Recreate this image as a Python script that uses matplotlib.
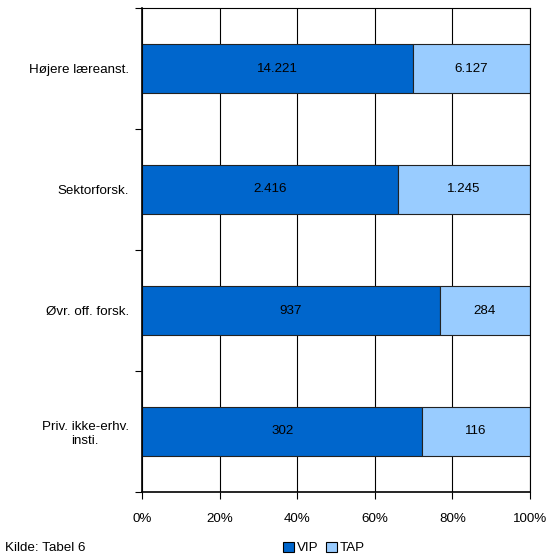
import numpy as np
import matplotlib.pyplot as plt
from matplotlib.patches import Patch

plt.rcParams['font.family'] = ['Liberation Sans', 'DejaVu Sans']

# Data
categories = ["Højere læreanst.", "Sektorforsk.", "Øvr. off. forsk.", "Priv. ikke-erhv.\ninsti."]
vip = np.array([14221, 2416, 937, 302])
tap = np.array([6127, 1245, 284, 116])
vip_labels = ["14.221", "2.416", "937", "302"]
tap_labels = ["6.127", "1.245", "284", "116"]

total = vip + tap
vip_share = vip / total
tap_share = tap / total

fs = 9.6

fig = plt.figure(figsize=(5.52, 5.57), dpi=100)
ax = fig.add_axes([142 / 552, 65 / 557, 388 / 552, 484 / 557])

y = np.arange(len(categories))
ax.set_axisbelow(True)
ax.xaxis.grid(True, color='black', linewidth=0.8)

ax.barh(y, vip_share, height=0.4, color='#0066CC', edgecolor='#222222', linewidth=0.8, label='VIP')
ax.barh(y, tap_share, left=vip_share, height=0.4, color='#99CCFF', edgecolor='#222222', linewidth=0.8, label='TAP')

for i in range(len(categories)):
    ax.text(vip_share[i] / 2, y[i], vip_labels[i], ha='center', va='center', fontsize=fs, color='black')
    ax.text(vip_share[i] + tap_share[i] / 2, y[i], tap_labels[i], ha='center', va='center', fontsize=fs, color='black')

ax.set_xlim(0, 1)
ax.set_ylim(len(categories) - 0.5, -0.5)
ax.set_xticks(np.linspace(0, 1, 6))
ax.set_xticklabels([f"{int(v)}%" for v in np.linspace(0, 100, 6)], fontsize=fs)

# boundaries as major ticks, labels on minor ticks
ax.set_yticks(np.arange(-0.5, len(categories), 1.0))
ax.set_yticklabels([])
ax.set_yticks(y, minor=True)
ax.set_yticklabels(categories, minor=True, fontsize=fs, ha='right', multialignment='center')
ax.tick_params(axis='y', which='minor', length=0, pad=9.5)
ax.tick_params(axis='y', which='major', length=5, width=0.8)
ax.tick_params(axis='x', length=5, width=0.8, pad=10)

for s in ['left', 'bottom']:
    ax.spines[s].set_linewidth(1.2)
for s in ['top', 'right']:
    ax.spines[s].set_linewidth(0.8)

fig.text(5 / 552, 1 - 548 / 557, "Kilde: Tabel 6", fontsize=fs, va='center', ha='left')

handles = [Patch(facecolor='#0066CC', edgecolor='black', linewidth=0.8, label='VIP'),
           Patch(facecolor='#99CCFF', edgecolor='black', linewidth=0.8, label='TAP')]
fig.legend(handles=handles, loc='center', bbox_to_anchor=(324 / 552, 1 - 548 / 557),
           ncol=2, frameon=False, fontsize=fs, handlelength=0.8, handleheight=0.8,
           handletextpad=0.2, columnspacing=0.6, borderpad=0)

fig.savefig("out.png", dpi=100)
